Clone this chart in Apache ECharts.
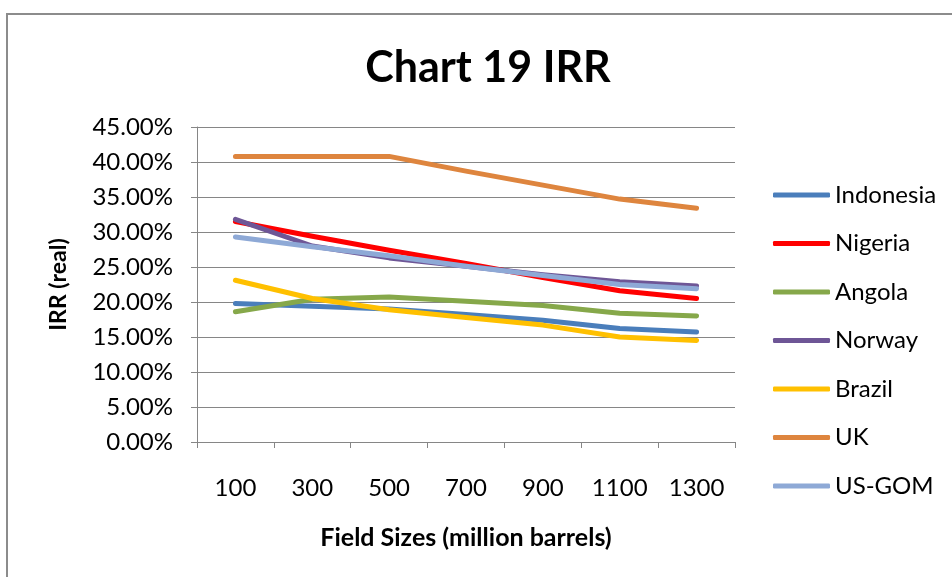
<!DOCTYPE html>
<html>
<head>
<meta charset="utf-8">
<script src="https://cdn.jsdelivr.net/npm/echarts@6/dist/echarts.min.js"></script>
<style>
html,body{margin:0;padding:0;background:#fff;}
#chart{width:952px;height:577px;}
</style>
</head>
<body>
<div id="chart"></div>
<script>
const categories = ['100','300','500','700','900','1100','1300'];
const indonesia = [19.8, 19.4, 19.0, 18.2, 17.4, 16.2, 15.7];
const nigeria   = [31.5, 29.4, 27.4, 25.5, 23.5, 21.6, 20.5];
const angola    = [18.6, 20.4, 20.7, 20.1, 19.5, 18.4, 18.0];
const norway    = [31.8, 28.0, 26.3, 25.1, 23.9, 22.9, 22.3];
const brazil    = [23.1, 20.5, 18.9, 17.8, 16.7, 15.0, 14.5];
const uk        = [40.8, 40.8, 40.8, 38.7, 36.7, 34.7, 33.4];
const usgom     = [29.3, 27.9, 26.6, 25.1, 23.8, 22.5, 21.9];
const seriesNames = ['Indonesia','Nigeria','Angola','Norway','Brazil','UK','US-GOM'];
const seriesData = [indonesia, nigeria, angola, norway, brazil, uk, usgom];
const colors = ['#4A7EBB','#FF0000','#86A84A','#6E5696','#FFC000','#DE853E','#8EA9D6'];
const yTicks = {min: 0, max: 45, interval: 5};

const FONT = 'Lato';
const chart = echarts.init(document.getElementById('chart'));
chart.setOption({
  backgroundColor: '#fff',
  animation: false,
  color: colors,
  graphic: [{
    type: 'rect', shape: {x: 7, y: 14, width: 980, height: 620},
    style: {fill: 'none', stroke: '#8c8c8c', lineWidth: 2}, z: -1
  }],
  title: {
    text: 'Chart 19 IRR', left: 483, top: 42, textAlign: 'center',
    textStyle: {fontFamily: FONT, fontWeight: 'bold', fontSize: 43, color: '#000'}
  },
  legend: {
    orient: 'vertical', left: 768, top: 178,
    icon: 'roundRect', itemWidth: 57, itemHeight: 5, itemGap: 24.5,
    textStyle: {fontFamily: FONT, fontSize: 24, color: '#000', lineHeight: 24},
    data: seriesNames
  },
  grid: {left: 197, right: 217, top: 127, bottom: 135, containLabel: false},
  xAxis: {
    type: 'category', data: categories, boundaryGap: true,
    name: 'Field Sizes (million barrels)', nameLocation: 'middle', nameGap: 83,
    nameTextStyle: {fontFamily: FONT, fontWeight: 'bold', fontSize: 25, color: '#000'},
    axisLine: {lineStyle: {color: '#868686', width: 1}},
    axisTick: {show: true, inside: false, length: 6, alignWithLabel: false, lineStyle: {color: '#868686'}},
    axisLabel: {fontFamily: FONT, fontSize: 24, color: '#000', margin: 34, interval: 0},
    splitLine: {show: false}
  },
  yAxis: {
    type: 'value', min: yTicks.min, max: yTicks.max, interval: yTicks.interval,
    name: 'IRR (real)', nameLocation: 'middle', nameGap: 127, nameRotate: 90,
    nameTextStyle: {fontFamily: FONT, fontWeight: 'bold', fontSize: 23, color: '#000'},
    axisLine: {show: true, lineStyle: {color: '#868686', width: 1}},
    axisTick: {show: true, inside: false, length: 6, lineStyle: {color: '#868686'}},
    axisLabel: {fontFamily: FONT, fontSize: 24, color: '#000', margin: 24,
      formatter: v => v.toFixed(2) + '%'},
    splitLine: {show: true, lineStyle: {color: '#868686', width: 1}}
  },
  series: seriesNames.map((n, i) => ({
    name: n, type: 'line', data: seriesData[i],
    symbol: 'none', lineStyle: {width: 5, color: colors[i], cap: 'round', join: 'round'},
    itemStyle: {color: colors[i]}
  }))
});
</script>
</body>
</html>
